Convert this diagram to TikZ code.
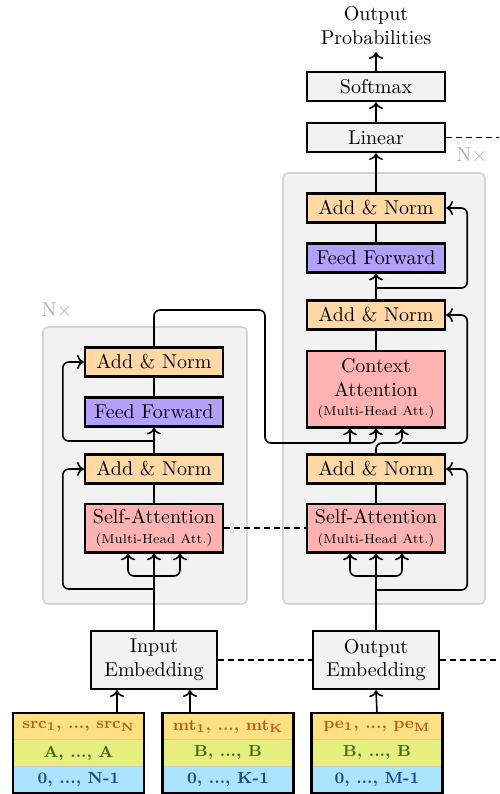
\documentclass[tikz,border=0pt]{standalone}
\usepackage{amsmath, amssymb}
\usepackage{tikz}
\usetikzlibrary{positioning, arrows.meta}

\definecolor{normcol}{RGB}{255,216,166}
\definecolor{ffncol}{RGB}{178,160,250}
\definecolor{attcol}{RGB}{255,178,178}
\definecolor{boxcol}{RGB}{242,242,242}
\definecolor{layercol}{RGB}{242,242,243}
\definecolor{layerline}{RGB}{212,212,216}
\definecolor{tokcol}{RGB}{255,224,130}
\definecolor{segcol}{RGB}{230,238,128}
\definecolor{poscol}{RGB}{170,228,255}
\definecolor{toktext}{RGB}{184,92,30}
\definecolor{segtext}{RGB}{64,110,24}
\definecolor{postext}{RGB}{22,72,150}

\newcommand{\mhatt}{{\fontsize{6.5pt}{8pt}\selectfont (Multi-Head Att.)}}

\begin{document}
\begin{tikzpicture}[
    x=0.5pt, y=-0.5pt,
    >=To,
    block/.style={draw, line width=1.2pt, minimum width=69pt, minimum height=14.5pt, inner sep=0pt, align=center, font=\normalsize},
    norm/.style={block, fill=normcol},
    ffn/.style={block, fill=ffncol},
    att/.style={block, fill=attcol},
    plain/.style={block, fill=boxcol},
    layer/.style={draw=layerline, fill=layercol, line width=0.8pt, rounded corners=2.5pt},
    wire/.style={line width=0.8pt, rounded corners=3pt},
    skip/.style={line width=0.8pt, dash pattern=on 3pt off 2pt},
    row/.style={minimum width=65pt, minimum height=13.25pt, inner sep=0pt, font=\footnotesize\bfseries, draw=gray!40, line width=0.4pt}
]
    \useasboundingbox (0,0) rectangle (499,794);

    % Фон блоков (N слоёв)
    \draw[layer] (43,327) rectangle (247,604);
    \draw[layer] (283,173) rectangle (485,604);
    \node[text=gray!60] (encN) at (57,310) {N$\times$};
    \node[text=gray!60] (decN) at (472,155) {N$\times$};

    % Энкодер
    \node[plain, minimum width=63pt, minimum height=29pt] (inemb) at (154,660) {Input\\Embedding};
    \node[att, minimum height=24.3pt] (eSA) at (154,528) {Self-Attention\\[-2pt]\mhatt};
    \node[norm] (eAN1) at (154,469) {Add \& Norm};
    \node[ffn] (eFF) at (154,412) {Feed Forward};
    \node[norm] (eAN2) at (154,362) {Add \& Norm};

    % Декодер
    \node[plain, minimum width=63pt, minimum height=29pt] (outemb) at (376,660) {Output\\Embedding};
    \node[att, minimum height=24.3pt] (dSA) at (376,528) {Self-Attention\\[-2pt]\mhatt};
    \node[norm] (dAN1) at (376,469) {Add \& Norm};
    \node[att, minimum height=38.3pt] (dCA) at (376,389) {Context\\Attention\\[-2.5pt]\mhatt};
    \node[norm] (dAN2) at (376,315) {Add \& Norm};
    \node[ffn] (dFF) at (376,258) {Feed Forward};
    \node[norm] (dAN3) at (376,208) {Add \& Norm};
    \node[plain] (linear) at (376,137.5) {Linear};
    \node[plain] (softmax) at (376,86.5) {Softmax};
    \node[align=center] (prob) at (376,26) {Output\\Probabilities};

    % Входные последовательности
    \node[row, fill=tokcol, text=toktext] (srcTok) at (78.5,726.5) {src\textsubscript{1}, ..., src\textsubscript{N}};
    \node[row, fill=segcol, text=segtext] (srcSeg) at (78.5,753) {A, ..., A};
    \node[row, fill=poscol, text=postext] (srcPos) at (78.5,779.5) {0, ..., N-1};
    \draw[line width=1.2pt] (srcTok.north west) rectangle (srcPos.south east);

    \node[row, fill=tokcol, text=toktext] (mtTok) at (228,726.5) {mt\textsubscript{1}, ..., mt\textsubscript{K}};
    \node[row, fill=segcol, text=segtext] (mtSeg) at (228,753) {B, ..., B};
    \node[row, fill=poscol, text=postext] (mtPos) at (228,779.5) {0, ..., K-1};
    \draw[line width=1.2pt] (mtTok.north west) rectangle (mtPos.south east);

    \node[row, fill=tokcol, text=toktext] (peTok) at (377,726.5) {pe\textsubscript{1}, ..., pe\textsubscript{M}};
    \node[row, fill=segcol, text=segtext] (peSeg) at (377,753) {B, ..., B};
    \node[row, fill=poscol, text=postext] (pePos) at (377,779.5) {0, ..., M-1};
    \draw[line width=1.2pt] (peTok.north west) rectangle (pePos.south east);

    % Точки ветвления
    \coordinate (eSplit) at (154,576);
    \coordinate (eRes1) at (154,589);
    \coordinate (eRes2) at (154,441);
    \coordinate (encTurn) at (265,310);
    \coordinate (ctx) at (376,443);
    \coordinate (dSplit) at (376,576);
    \coordinate (dRes1) at (376,590);
    \coordinate (dRes3) at (376,288);
    \coordinate (linEnd) at (499,137.5);
    \coordinate (embEnd) at (499,660);

    % Входы в эмбеддинги
    \draw[wire,->] ([xshift=-18.5pt]inemb.south |- srcTok.north) -- ([xshift=-18.5pt]inemb.south);
    \draw[wire,->] ([xshift=18pt]inemb.south |- mtTok.north) -- ([xshift=18pt]inemb.south);
    \draw[wire,->] (peTok.north) -- (outemb.south);

    % Связи энкодера
    \draw[wire,->] (inemb.north) -- (eSA.south);
    \draw[wire,<->] ([xshift=-13pt]eSA.south) |- (eSplit) -| ([xshift=13pt]eSA.south);
    \draw[wire,->] (eRes1) -| ([xshift=-10.5pt]eAN1.west) -- (eAN1.west);
    \draw[wire] (eSA.north) -- (eAN1.south);
    \draw[wire,->] (eAN1.north) -- (eFF.south);
    \draw[wire,->] (eRes2) -| ([xshift=-10.5pt]eAN2.west) -- (eAN2.west);
    \draw[wire] (eFF.north) -- (eAN2.south);

    % Выход энкодера -> контекстное внимание
    \draw[wire,->] (eAN2.north) |- (encTurn) |- (ctx) -- (dCA.south);
    \draw[wire,->] ([xshift=-13pt]dCA.south |- ctx) -- ([xshift=-13pt]dCA.south);

    % Связи декодера
    \draw[wire,->] (outemb.north) -- (dSA.south);
    \draw[wire,<->] ([xshift=-13pt]dSA.south) |- (dSplit) -| ([xshift=13pt]dSA.south);
    \draw[wire,->] (dRes1) -| ([xshift=10.5pt]dAN1.east) -- (dAN1.east);
    \draw[wire] (dSA.north) -- (dAN1.south);
    \draw[wire,->] (dAN1.north) |- ([xshift=13pt]dCA.south |- ctx) -- ([xshift=13pt]dCA.south);
    \draw[wire,->] ([xshift=13pt]dCA.south |- ctx) -| ([xshift=10.5pt]dAN2.east) -- (dAN2.east);
    \draw[wire] (dCA.north) -- (dAN2.south);
    \draw[wire,->] (dAN2.north) -- (dFF.south);
    \draw[wire,->] (dRes3) -| ([xshift=10.5pt]dAN3.east) -- (dAN3.east);
    \draw[wire] (dFF.north) -- (dAN3.south);
    \draw[wire,->] (dAN3.north) -- (linear.south);
    \draw[wire,->] (linear.north) -- (softmax.south);
    \draw[wire,->] (softmax.north) -- (prob.south);

    % Пунктирные связи
    \draw[skip] (eSA.east) -- (dSA.west);
    \draw[skip] (inemb.east) -- (outemb.west);
    \draw[skip] (outemb.east) -- (embEnd);
    \draw[skip] (linear.east) -- (linEnd);
\end{tikzpicture}
\end{document}
